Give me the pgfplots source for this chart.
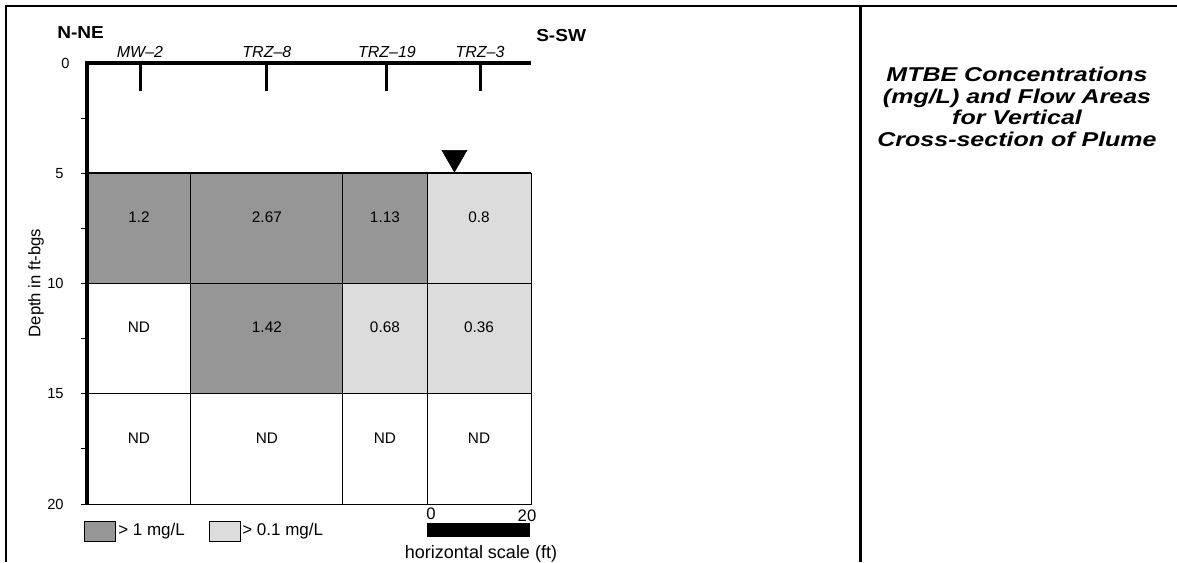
\documentclass[border=0pt]{standalone}
\usepackage{fontspec}
\setmainfont{Liberation Sans}
\newfontfamily\titlefont[FakeStretch=1.25]{Liberation Sans}
\newfontfamily\dirfont[FakeStretch=1.1]{Liberation Sans}
\usepackage{pgfplots}
\pgfplotsset{compat=1.18}
\definecolor{darkcell}{RGB}{150,150,150}
\definecolor{lightcell}{RGB}{220,220,220}
\begin{document}
\begin{tikzpicture}
\begin{scope}[x=0.75pt,y=-0.75pt]
\useasboundingbox (0,0) rectangle (1177,562);
\draw[line width=1.5pt] (5,6) -- (1177,6);
\draw[line width=1.5pt] (6,6) -- (6,562);
\draw[line width=2.25pt] (860,6) -- (860,562);
\end{scope}
\begin{axis}[
  at={(65.25pt,-378pt)}, anchor=south west,
  scale only axis, width=333pt, height=330.75pt,
  xmin=0, xmax=85.4, ymin=0, ymax=20, y dir=reverse,
  axis line style={draw=none},
  xtick=\empty,
  ytick={5,10,15,20}, minor ytick={2.5,7.5,12.5,17.5},
  extra y ticks={0}, extra y tick style={major tick length=0pt},
  ytick pos=left, tick align=outside,
  major tick length=4.5pt, minor tick length=4.5pt,
  tick style={black, line width=0.75pt},
  /pgf/number format/assume math mode=true,
  yticklabel style={font=\fontsize{11}{12}\selectfont, xshift=-9.5pt},
  clip=false,
]
% cells: row 5-10
\addplot[fill=darkcell, draw=black, line width=0.75pt] coordinates {(0,5) (20,5) (20,10) (0,10)} --cycle;
\addplot[fill=darkcell, draw=black, line width=0.75pt] coordinates {(20,5) (49.2,5) (49.2,10) (20,10)} --cycle;
\addplot[fill=darkcell, draw=black, line width=0.75pt] coordinates {(49.2,5) (65.4,5) (65.4,10) (49.2,10)} --cycle;
\addplot[fill=lightcell, draw=black, line width=0.75pt] coordinates {(65.4,5) (85.4,5) (85.4,10) (65.4,10)} --cycle;
% row 10-15
\addplot[fill=white, draw=black, line width=0.75pt] coordinates {(0,10) (20,10) (20,15) (0,15)} --cycle;
\addplot[fill=darkcell, draw=black, line width=0.75pt] coordinates {(20,10) (49.2,10) (49.2,15) (20,15)} --cycle;
\addplot[fill=lightcell, draw=black, line width=0.75pt] coordinates {(49.2,10) (65.4,10) (65.4,15) (49.2,15)} --cycle;
\addplot[fill=lightcell, draw=black, line width=0.75pt] coordinates {(65.4,10) (85.4,10) (85.4,15) (65.4,15)} --cycle;
% row 15-20
\addplot[fill=white, draw=black, line width=0.75pt] coordinates {(0,15) (20,15) (20,20) (0,20)} --cycle;
\addplot[fill=white, draw=black, line width=0.75pt] coordinates {(20,15) (49.2,15) (49.2,20) (20,20)} --cycle;
\addplot[fill=white, draw=black, line width=0.75pt] coordinates {(49.2,15) (65.4,15) (65.4,20) (49.2,20)} --cycle;
\addplot[fill=white, draw=black, line width=0.75pt] coordinates {(65.4,15) (85.4,15) (85.4,20) (65.4,20)} --cycle;
% cell values
\addplot[only marks, mark=none, nodes near coords, point meta=explicit symbolic,
  every node near coord/.style={anchor=center, font=\fontsize{11.5}{13}\selectfont}]
  table[meta=label, row sep=\\]{
  x y label\\
  10 7.0 1.2\\
  34.6 7.0 2.67\\
  57.3 7.0 1.13\\
  75.4 7.0 0.8\\
  10 12.0 ND\\
  34.6 12.0 1.42\\
  57.3 12.0 0.68\\
  75.4 12.0 0.36\\
  10 17.0 ND\\
  34.6 17.0 ND\\
  57.3 17.0 ND\\
  75.4 17.0 ND\\
};
% thick lines
\draw[line width=1.5pt] (axis cs:0,5) -- (axis cs:85.4,5);
\draw[line width=3pt] (axis cs:0,20) -- (axis cs:0,0) -- (axis cs:85.4,0);
% well ticks
\addplot[ycomb, black, line width=2.25pt, mark=none] coordinates {(10.2,1.27) (34.6,1.27) (57.7,1.27) (75.6,1.27)};
\node[anchor=base, font=\itshape\fontsize{12}{14}\selectfont] at ([yshift=4.5pt]axis cs:10.2,0) {MW–2};
\node[anchor=base, font=\itshape\fontsize{12}{14}\selectfont] at ([yshift=4.5pt]axis cs:34.6,0) {TRZ–8};
\node[anchor=base, font=\itshape\fontsize{12}{14}\selectfont] at ([yshift=4.5pt]axis cs:57.7,0) {TRZ–19};
\node[anchor=base, font=\itshape\fontsize{12}{14}\selectfont] at ([yshift=4.5pt]axis cs:75.6,0) {TRZ–3};
% water table
\addplot[only marks, mark=triangle*, mark size=10.8pt, mark options={rotate=180, fill=black, draw=black}] coordinates {(70.67,4.29)};
\end{axis}
\begin{scope}[x=0.75pt,y=-0.75pt]
\node[anchor=base west, inner sep=0pt, font=\dirfont\bfseries\fontsize{13}{14}\selectfont] at (57,38) {N-NE};
\node[anchor=base west, inner sep=0pt, font=\dirfont\bfseries\fontsize{13}{14}\selectfont] at (536,41) {S-SW};
\node[rotate=90, inner sep=0pt, font=\fontsize{12.5}{14}\selectfont] at (36,283) {Depth in ft-bgs};
% legend
\draw[fill=darkcell, line width=0.75pt] (84,521) rectangle (115,541);
\node[anchor=base west, inner sep=0pt, font=\fontsize{12.75}{14}\selectfont] at (118,535) {> 1 mg/L};
\draw[fill=lightcell, line width=0.75pt] (209,521) rectangle (240,541);
\node[anchor=base west, inner sep=0pt, font=\fontsize{12.75}{14}\selectfont] at (242,535) {> 0.1 mg/L};
% scale bar
\fill[black] (427,523) rectangle (530,537);
\node[anchor=base, inner sep=0pt, font=\fontsize{12.5}{14}\selectfont] at (431,519) {0};
\node[anchor=base, inner sep=0pt, font=\fontsize{12.5}{14}\selectfont] at (527,521) {20};
\node[anchor=base, inner sep=0pt, font=\fontsize{13.5}{15}\selectfont] at (481,558) {horizontal scale (ft)};
% title
\node[anchor=base, inner sep=0pt, font=\titlefont\bfseries\itshape\fontsize{15}{17}\selectfont] at (1017,81) {MTBE Concentrations};
\node[anchor=base, inner sep=0pt, font=\titlefont\bfseries\itshape\fontsize{15}{17}\selectfont] at (1017,103) {(mg/L) and Flow Areas};
\node[anchor=base, inner sep=0pt, font=\titlefont\bfseries\itshape\fontsize{15}{17}\selectfont] at (1017,124) {for Vertical};
\node[anchor=base, inner sep=0pt, font=\titlefont\bfseries\itshape\fontsize{15}{17}\selectfont] at (1017,146) {Cross-section of Plume};
\end{scope}
\end{tikzpicture}
\end{document}
